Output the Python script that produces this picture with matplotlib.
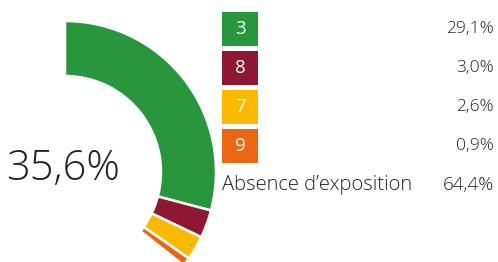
import matplotlib
matplotlib.use("Agg")
import matplotlib.pyplot as plt
from matplotlib.patches import Rectangle

# data
categories = ["3", "8", "7", "9", "Absence d\u2019exposition"]
shares = [29.1, 3.0, 2.6, 0.9, 64.4]
labels = ["29,1%", "3,0%", "2,6%", "0,9%", "64,4%"]
exposed_total = "35,6%"
colors = ["#27963c", "#8e1733", "#fbb900", "#ec6613", "none"]

FONT = ["Open Sans", "DejaVu Sans"]
TXT = "#222222"

fig = plt.figure(figsize=(4.98, 2.62), dpi=100)
ax = fig.add_axes([0, 0, 1, 1])

wedges, _ = ax.pie(shares, colors=colors, startangle=90, counterclock=False,
                   radius=151, center=(65, 90),
                   wedgeprops=dict(width=55, edgecolor="white", linewidth=1.8))
wedges[-1].set_edgecolor("none")

ax.set_xlim(0, 498)
ax.set_ylim(0, 262)
ax.set_aspect("auto")
ax.axis("off")

ax.text(6, 93, exposed_total, fontsize=30, fontfamily=FONT, fontweight="light",
        color=TXT, ha="left", va="center")

for i, (cat, lab, col) in enumerate(zip(categories, labels, colors)):
    yc = 262 - (29 + 39 * i)
    if col != "none":
        ax.add_patch(Rectangle((222, yc - 17), 36, 34, facecolor=col, edgecolor="none"))
        ax.text(240, yc, cat, fontsize=13.5, fontfamily=FONT, color="white",
                ha="center", va="center")
        ax.text(494, yc, lab, fontsize=12.5, fontfamily=FONT, fontweight="light",
                color=TXT, ha="right", va="center")
    else:
        yc = 262 - 185
        ax.text(222, yc, cat, fontsize=14.5, fontfamily=FONT, fontweight="light",
                color=TXT, ha="left", va="center")
        ax.text(494, yc, lab, fontsize=13.5, fontfamily=FONT, fontweight="light",
                color=TXT, ha="right", va="center")

fig.savefig("out.png", dpi=100)
